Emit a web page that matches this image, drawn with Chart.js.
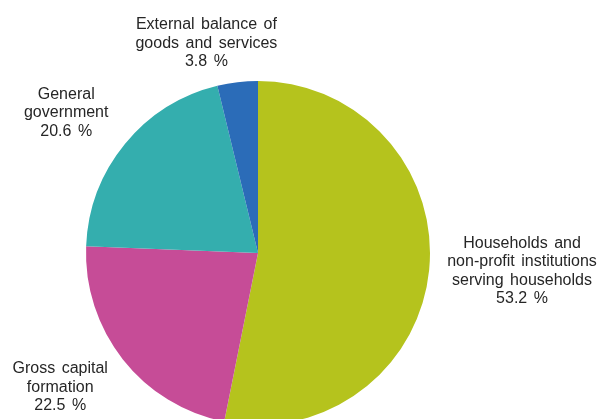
<!DOCTYPE html>
<html>
<head>
<meta charset="utf-8">
<script src="https://cdn.jsdelivr.net/npm/chart.js@4"></script>
<style>
  html, body { margin: 0; padding: 0; background: #fff; overflow: hidden; }
  #wrap { width: 603px; height: 425px; position: relative; }
</style>
</head>
<body>
<div id="wrap"><canvas id="pie"></canvas></div>
<script>
var categories = [
    ["Households and", "non-profit institutions", "serving households"],
    ["Gross capital", "formation"],
    ["General", "government"],
    ["External balance of", "goods and services"]
];
var shares = [53.2, 22.5, 20.6, 3.8];
var sliceColors = ['#b5c31d', '#c64c97', '#34aeae', '#2b6cb8'];

// where each label sits, relative to pie centre, in units of the radius
var labelSpots = [[1.535, 0.105], [-1.15, 0.78], [-1.115, -0.815], [-0.3, -1.22]];

var pieLabels = {
    id: 'pieLabels',
    afterDraw: function (chart) {
        var ctx = chart.ctx;
        var meta = chart.getDatasetMeta(0);
        ctx.save();
        ctx.font = '16px "Liberation Sans", Arial, sans-serif';
        ctx.wordSpacing = '2px';
        ctx.fillStyle = '#262626';
        ctx.textAlign = 'center';
        ctx.textBaseline = 'middle';
        for (var i = 0; i < meta.data.length; ++i) {
            var arc = meta.data[i];
            var lines = categories[i].concat([shares[i].toFixed(1) + ' %']);
            var cx = arc.x + labelSpots[i][0] * arc.outerRadius;
            var cy = arc.y + labelSpots[i][1] * arc.outerRadius;
            var lh = 18.5;
            var y0 = cy - (lines.length - 1) * lh / 2;
            for (var j = 0; j < lines.length; ++j) {
                ctx.fillText(lines[j], cx, y0 + j * lh);
            }
        }
        ctx.restore();
    }
};

var ctx = document.getElementById("pie");
var pieChart = new Chart(ctx, {
    type: 'pie',
    data: {
        labels: categories.map(function (c) { return c.join(' '); }),
        datasets: [{
            data: shares,
            backgroundColor: sliceColors,
            borderWidth: 0
        }]
    },
    options: {
        responsive: true,
        maintainAspectRatio: false,
        animation: false,
        layout: { padding: { top: 81, left: 86, right: 173, bottom: 0 } },
        plugins: {
            legend: { display: false },
            tooltip: { enabled: false }
        }
    },
    plugins: [pieLabels]
});
</script>
</body>
</html>
